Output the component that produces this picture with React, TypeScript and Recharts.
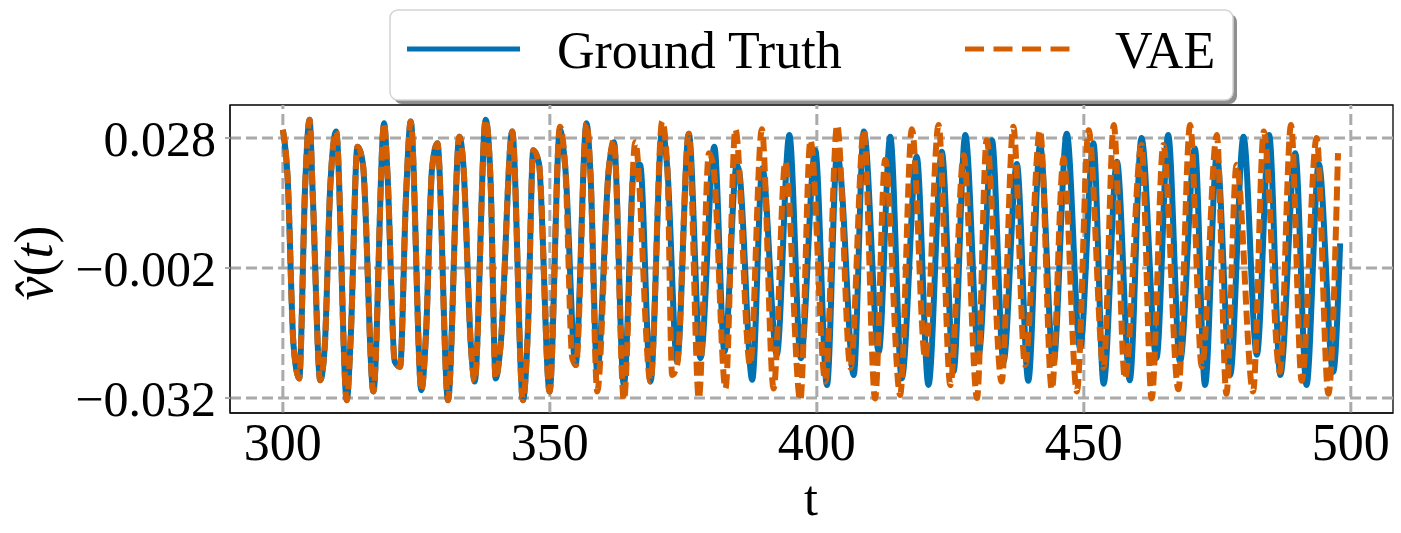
import React from 'react';
import { LineChart, Line, XAxis, YAxis, ReferenceArea, ReferenceLine } from 'recharts';

// Ground truth extrema / kinks (t, value)
const gtT = [
  300, 300.9, 302.0, 303.06, 304.2, 305.0, 305.6, 307.0, 307.86, 308.86, 309.98, 311.97, 312.7, 313.97, 314.97,
  316.96, 318.96, 319.6, 320.95, 321.95, 323.07, 323.95, 325.94, 326.8, 327.94, 328.94, 330.93, 333.05, 333.8,
  335.2, 335.92, 337.98, 338.9, 339.85, 340.78, 342.96, 344.96, 345.9, 346.89, 347.95, 349.95, 351.88, 352.9,
  354.81, 356.87, 357.6, 358.87, 361.05, 361.99, 363.86, 365.8, 366.9, 368.85, 371.03, 372.0, 373.83, 376.02,
  378.2, 380.8, 382.7, 385.0, 385.5, 387.9, 389.8, 392.5, 394.85, 397.0, 399.7, 401.9, 403.8, 404.5, 406.9,
  408.8, 411.6, 413.75, 415.9, 418.7, 420.9, 423.4, 425.6, 427.8, 430.3, 432.8, 434.95, 437.45, 439.6, 441.8,
  444.3, 446.8, 449.3, 451.8, 453.7, 456.2, 458.6, 460.8, 463.6, 465.8, 468.0, 470.8, 472.7, 474.9, 477.4,
  479.9, 482.4, 484.7, 486.8, 489.6, 491.7, 494.0, 496.7, 498.0,
];
const gtV = [
  0.0299, 0.0187, -0.0198, -0.0275, 0.0179, 0.0322, 0.0148, -0.0279, -0.0198, 0.0164, 0.0295, -0.0325, -0.0182, 0.026, 0.0222,
  -0.0305, 0.0314, 0.0195, -0.0236, -0.0248, 0.0148, 0.0318, -0.0302, -0.0174, 0.021, 0.0268, -0.0325, 0.0283, 0.0218,
  -0.0198, -0.0282, 0.0322, 0.018, -0.0275, -0.0198, 0.0295, -0.0325, -0.016, 0.0252, 0.0222, -0.0305, 0.0299, 0.021,
  -0.0244, 0.0314, 0.02, -0.0259, 0.021, 0.027, -0.029, 0.0215, 0.0218, -0.0282, 0.03, 0.021, -0.0236, 0.029,
  -0.0228, 0.026, -0.0213, 0.0218, 0.02, -0.0278, 0.021, -0.022, 0.0287, -0.0228, 0.0252, -0.029, 0.0248, 0.019, -0.0267,
  0.0295, -0.0213, 0.0283, -0.0275, 0.0237, -0.029, 0.0248, -0.0259, 0.0287, -0.022, 0.0275, -0.0236, 0.022, -0.028, 0.0264,
  -0.024, 0.029, -0.0205, 0.0268, -0.0287, 0.0225, -0.0279, 0.028, -0.0228, 0.0287, -0.0236, 0.0256, -0.029, 0.024, -0.0267,
  0.0283, -0.022, 0.0287, -0.0267, 0.0245, -0.029, 0.022, -0.026, 0.0037,
];

// VAE extrema / kinks (t, value)
const vaeT = [
  300, 300.9, 302.0, 303.06, 304.2, 305.0, 305.6, 307.0, 307.86, 308.86, 309.98, 311.97, 312.7, 313.97, 314.97,
  316.96, 318.96, 319.6, 320.95, 321.95, 323.07, 323.95, 325.94, 326.8, 327.94, 328.94, 330.93, 333.05, 333.8,
  335.2, 335.92, 337.98, 338.9, 339.85, 340.78, 342.96, 344.96, 345.9, 346.89, 347.95, 349.95, 351.88, 352.9,
  354.2, 354.9, 356.87, 357.6, 358.87, 361.05, 361.99, 363.86, 366.0, 368.85, 371.03, 372.0, 372.9, 373.83, 376.02,
  377.9, 379.8, 380.6, 382.9, 384.75, 387.5, 389.7, 391.9, 394.1, 396.9, 398.8, 401.6, 403.8, 406.3, 408.8,
  410.9, 412.8, 415.6, 417.8, 420.3, 422.8, 425.0, 427.5, 430.0, 431.8, 434.6, 436.8, 439.0, 441.8, 444.0,
  446.2, 448.7, 450.9, 453.7, 455.6, 457.7, 460.8, 462.7, 464.9, 467.7, 469.9, 472.1, 474.9, 476.7, 478.6,
  481.7, 483.7, 486.7, 488.8, 490.8, 493.6, 495.8, 497.6,
];
const vaeV = [
  0.0299, 0.0187, -0.0198, -0.0275, 0.0179, 0.0322, 0.0148, -0.0279, -0.0198, 0.0164, 0.0295, -0.0325, -0.0182, 0.026, 0.0222,
  -0.0305, 0.0314, 0.0195, -0.0236, -0.0248, 0.0148, 0.0318, -0.0302, -0.0174, 0.021, 0.0268, -0.0325, 0.0283, 0.0218,
  -0.0198, -0.0282, 0.0322, 0.018, -0.0275, -0.0198, 0.0295, -0.0325, -0.016, 0.0252, 0.0222, -0.0305, 0.0306, 0.021,
  -0.0228, -0.0244, 0.0314, 0.02, -0.0305, 0.021, 0.0275, -0.0325, 0.027, -0.0282, 0.0318, 0.021, -0.0267, -0.0244, 0.029,
  -0.0321, 0.0245, 0.0218, -0.0298, 0.03, -0.0244, 0.03, -0.0298, 0.0225, -0.0325, 0.0275, -0.0282, 0.031, -0.025, 0.0298,
  -0.0321, 0.023, -0.0313, 0.03, -0.0228, 0.031, -0.029, 0.024, -0.032, 0.0275, -0.0282, 0.0306, -0.0244, 0.0298, -0.03,
  0.0233, -0.0305, 0.0298, -0.025, 0.031, -0.0275, 0.0264, -0.0321, 0.0264, -0.03, 0.031, -0.0248, 0.0287, -0.031, 0.0218,
  -0.0305, 0.0295, -0.026, 0.031, -0.028, 0.028, -0.031, 0.0245,
];

const xTicks = [300, 350, 400, 450, 500];
const yTicks = [0.028, -0.002, -0.032];
const seriesNames = ['Ground Truth', 'VAE'];

const gtData = gtT.map((t, i) => ({ t, v: gtV[i] }));
const vaeData = vaeT.map((t, i) => ({ t, v: vaeV[i] }));

const FONT = '"Liberation Serif", "Times New Roman", serif';
const BLUE = '#0072B2';
const ORANGE = '#D55E00';
const GRID = '#aaaaaa';
const X_DOMAIN: [number, number] = [290.1, 507.9];
const Y_DOMAIN: [number, number] = [-0.035462, 0.035615];

const fmtY = (v: number) => v.toFixed(3).replace('-', '\u2212');

const YLabel = () => (
  <text
    x={52}
    y={263}
    transform="rotate(-90, 52, 263)"
    textAnchor="middle"
    fontFamily={FONT}
    fontSize={54}
    fill="#000"
  >
    <tspan fontStyle="italic">{'v\u0302'}</tspan>
    <tspan>(</tspan>
    <tspan fontStyle="italic">t</tspan>
    <tspan>)</tspan>
  </text>
);

const XLabel = () => (
  <text x={811} y={515} textAnchor="middle" fontFamily={FONT} fontSize={50} fill="#000">
    t
  </text>
);

const LegendBox = () => (
  <svg
    width={1401}
    height={533}
    style={{ position: 'absolute', left: 0, top: 0, pointerEvents: 'none' }}
  >
    <rect x={394} y={14} width={843} height={90} rx={8} ry={8} fill="#8f8f8f" />
    <rect x={390} y={10} width={843} height={90} rx={8} ry={8} fill="#fff" stroke="#d3d3d3" strokeWidth={1.5} />
    <line x1={407} y1={49} x2={520} y2={49} stroke={BLUE} strokeWidth={5} />
    <text x={557} y={68} fontFamily={FONT} fontSize={52} fill="#000">
      {seriesNames[0]}
    </text>
    <line x1={965} y1={49} x2={1070} y2={49} stroke={ORANGE} strokeWidth={5} strokeDasharray="19 9.5" />
    <text x={1115} y={68} fontFamily={FONT} fontSize={52} fill="#000">
      {seriesNames[1]}
    </text>
  </svg>
);

export default function App() {
  return (
    <div style={{ position: 'absolute', left: 0, top: 0, width: 1401, height: 533, background: '#fff' }}>
      <LineChart width={1401} height={533} margin={{ top: 105, right: 8, bottom: 0, left: 0 }}>
        <XAxis
          dataKey="t"
          type="number"
          domain={X_DOMAIN}
          ticks={xTicks}
          allowDataOverflow
          height={120}
          tickSize={0}
          tickLine={false}
          tickMargin={10}
          stroke="#000"
          tick={{ fill: '#000', fontSize: 52, fontFamily: FONT }}
          label={{ content: () => <XLabel /> }}
        />
        <YAxis
          type="number"
          domain={Y_DOMAIN}
          ticks={yTicks}
          allowDataOverflow
          width={230}
          tickSize={5}
          tickMargin={9}
          stroke="#000"
          tickLine={{ stroke: GRID, strokeWidth: 2 }}
          tickFormatter={fmtY}
          tick={{ fill: '#000', fontSize: 50, fontFamily: FONT }}
          label={{ content: () => <YLabel /> }}
        />
        {xTicks.map((x) => (
          <ReferenceLine
            key={`gx${x}`}
            x={x}
            stroke={GRID}
            strokeWidth={3}
            strokeDasharray="11 5"
          />
        ))}
        {yTicks.map((y) => (
          <ReferenceLine
            key={`gy${y}`}
            y={y}
            stroke={GRID}
            strokeWidth={3}
            strokeDasharray="11 5"
          />
        ))}
        <ReferenceArea
          x1={X_DOMAIN[0]}
          x2={X_DOMAIN[1]}
          y1={Y_DOMAIN[0]}
          y2={Y_DOMAIN[1]}
          fill="none"
          fillOpacity={0}
          stroke="#000"
          strokeWidth={1.3}
        />
        <Line
          data={gtData}
          dataKey="v"
          name={seriesNames[0]}
          type="monotone"
          stroke={BLUE}
          strokeWidth={6}
          dot={false}
          isAnimationActive={false}
        />
        <Line
          data={vaeData}
          dataKey="v"
          name={seriesNames[1]}
          type="monotone"
          stroke={ORANGE}
          strokeWidth={6}
          strokeDasharray="14 6"
          dot={false}
          isAnimationActive={false}
        />
      </LineChart>
      <LegendBox />
    </div>
  );
}
